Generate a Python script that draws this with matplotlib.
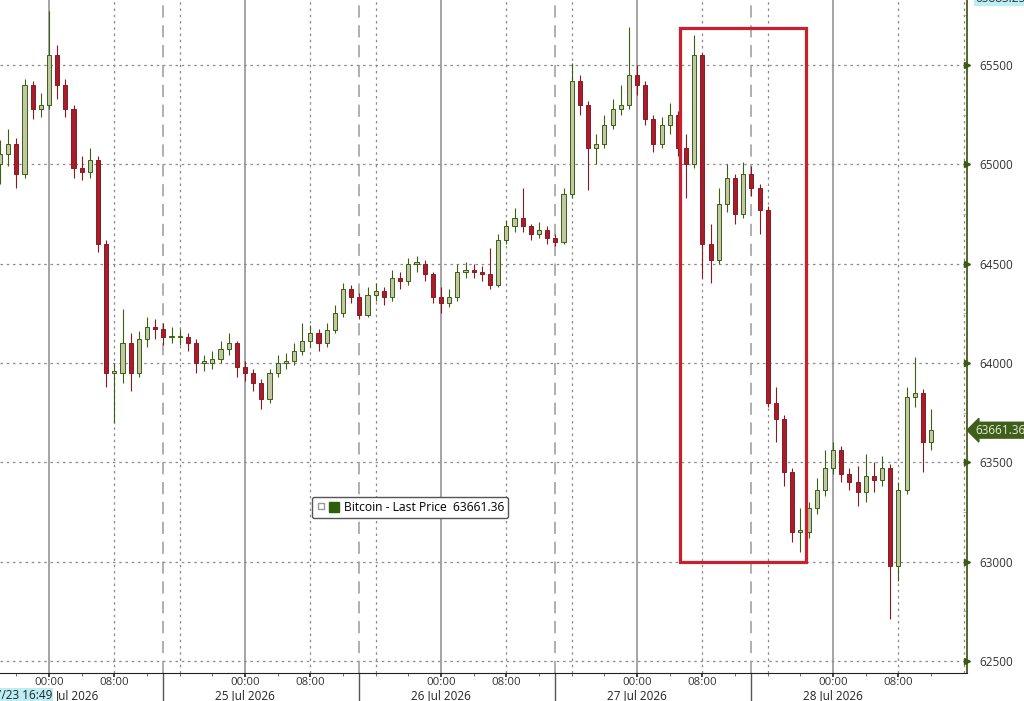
import numpy as np
import matplotlib.pyplot as plt
from matplotlib import patches, transforms
from matplotlib.lines import Line2D
from matplotlib.legend_handler import HandlerTuple

plt.rcParams['font.family'] = ['Open Sans', 'DejaVu Sans']

# hours from 24 Jul 2026 00:00, hourly candles
hours = np.arange(-6, 109)

close = [65050, 65100, 64950, 65400, 65280, 65300,
         65550, 65400, 65280, 64980, 64960, 65020, 64600, 63950, 63950, 64100,
         63950, 64120, 64180, 64170, 64130, 64130, 64130, 64100, 64000, 64000,
         64020, 64070, 64100, 63980,
         63950, 63900, 63820, 63950, 64000, 64010, 64060, 64110, 64150, 64100,
         64165, 64250, 64370, 64330, 64240, 64340, 64360, 64330, 64430, 64410,
         64500, 64500, 64450, 64330,
         64300, 64330, 64460, 64470, 64460, 64450, 64390, 64620, 64690, 64730,
         64690, 64650, 64670, 64630, 64610, 64850, 65420, 65300, 65080, 65100,
         65200, 65280, 65300, 65450,
         65400, 65230, 65100, 65200, 65250, 65080, 65000, 65550, 64600, 64520,
         64800, 64930, 64750, 64950, 64880, 64770, 63800, 63720, 63450, 63150,
         63150, 63270, 63360, 63470,
         63560, 63440, 63400, 63350, 63430, 63410, 63470, 62980, 63360, 63830,
         63850, 63600, 63661.36]

high = [65120, 65180, 65130, 65430, 65420, 65360,
        65770, 65600, 65430, 65300, 65040, 65080, 65040, 64620, 64000, 64270,
        64150, 64160, 64230, 64220, 64200, 64180, 64170, 64150, 64120, 64040,
        64060, 64110, 64150, 64110,
        64010, 63970, 63920, 63970, 64040, 64050, 64100, 64200, 64190, 64170,
        64200, 64290, 64400, 64390, 64350, 64380, 64400, 64380, 64470, 64460,
        64530, 64540, 64520, 64460,
        64380, 64370, 64500, 64510, 64500, 64490, 64580, 64650, 64720, 64780,
        64880, 64700, 64710, 64690, 64650, 64880, 65510, 65450, 65320, 65150,
        65250, 65330, 65400, 65690,
        65500, 65420, 65250, 65240, 65310, 65270, 65150, 65650, 65560, 64700,
        64880, 65000, 64950, 65010, 64990, 64900, 64790, 63880, 63740, 63470,
        63270, 63300, 63420, 63560,
        63600, 63580, 63470, 63480, 63540, 63500, 63530, 63490, 63400, 63880,
        64030, 63870, 63770]

low = [64900, 64990, 64880, 64930, 65230, 65240,
       65280, 65330, 65240, 64930, 64920, 64930, 64560, 63880, 63700, 63900,
       63860, 63930, 64080, 64120, 64090, 64100, 64090, 64060, 63950, 63960,
       63970, 64000, 64040, 63930,
       63910, 63860, 63770, 63800, 63930, 63970, 63990, 64040, 64080, 64060,
       64080, 64150, 64230, 64300, 64220, 64230, 64310, 64290, 64310, 64370,
       64390, 64460, 64410, 64300,
       64250, 64280, 64310, 64430, 64430, 64410, 64370, 64380, 64600, 64660,
       64660, 64620, 64630, 64600, 64590, 64600, 64830, 65250, 64870, 65000,
       65080, 65180, 65250, 65280,
       65350, 65200, 65060, 65080, 65150, 65040, 64830, 64980, 64430, 64400,
       64500, 64760, 64700, 64730, 64840, 64650, 63780, 63600, 63380, 63100,
       63050, 63120, 63240, 63330,
       63440, 63400, 63360, 63280, 63300, 63350, 63380, 62710, 62900, 63340,
       63780, 63450, 63560]

first_open = 65000
last_price = 63661.36
top_label = "65883.25"

price_ticks = [62500, 63000, 63500, 64000, 64500, 65000, 65500]
day_ticks = [0, 24, 48, 72, 96]
day_names = ["24 Jul 2026", "25 Jul 2026", "26 Jul 2026", "27 Jul 2026", "28 Jul 2026"]
eight_ticks = [8, 32, 56, 80, 104]
session_breaks = [14, 38, 62, 86]

close = np.array(close)
opn = np.concatenate([[first_open], close[:-1]])
high = np.array(high)
low = np.array(low)
up = close >= opn

up_face, up_edge = '#c0c6a6', '#3c5f10'
dn_face, dn_edge = '#a61e2c', '#8a1a22'

fig = plt.figure(figsize=(10.24, 7.01), dpi=100)
ax = fig.add_axes([0, 28 / 701, 967 / 1024, 673 / 701])
ax.set_xlim(-6.0, 112.4)
ax.set_ylim(62439, 65827)

# grid
for p in price_ticks:
    ax.axhline(p, color='#8a8a8a', lw=0.9, ls=(0, (2, 3)), zorder=1)
for d in day_ticks:
    ax.axvline(d, color='#8c8c8c', lw=1.1, zorder=1)
for d in day_ticks:
    for h in (8, 16):
        ax.axvline(d + h, color='#8a8a8a', lw=0.9, ls=(0, (2, 3)), zorder=1)
for s in session_breaks:
    ax.axvline(s, color='#9a9a9a', lw=1.1, ls=(0, (8, 5)), zorder=1)
    ax.plot([s, s], [-0.045, 0], transform=ax.get_xaxis_transform(),
            color='#555555', lw=1, clip_on=False)

# candles
ax.vlines(hours[up], low[up], high[up], color=up_edge, lw=0.8, zorder=3)
ax.vlines(hours[~up], low[~up], high[~up], color=dn_edge, lw=0.8, zorder=3)
body = np.maximum(np.abs(close - opn), 8)
bottom = np.minimum(opn, close)
ax.bar(hours[up], body[up], bottom=bottom[up], width=0.5,
       color=up_face, edgecolor=up_edge, lw=0.7, zorder=4)
ax.bar(hours[~up], body[~up], bottom=bottom[~up], width=0.5,
       color=dn_face, edgecolor=dn_edge, lw=0.7, zorder=4)

# highlight box
ax.add_patch(patches.Rectangle((77.25, 63000), 15.45, 2686, fill=False,
                               ec='#c8202c', lw=2.3, zorder=6))

# axes styling
ax.spines['left'].set_visible(False)
ax.spines['top'].set_visible(False)
ax.spines['right'].set_color('#4a5a1c')
ax.spines['right'].set_linewidth(1.3)
ax.spines['bottom'].set_color('#222222')
ax.yaxis.tick_right()
ax.set_yticks(price_ticks)
ax.set_yticklabels([str(p) for p in price_ticks])
ax.set_yticks(np.arange(62750, 65800, 500), minor=True)
ax.tick_params(axis='y', which='major', length=0, pad=9, labelsize=8.5,
               labelcolor='#333333')
ax.tick_params(axis='y', which='minor', length=3, color='#aaaaaa', direction='in')
ax.plot([1] * len(price_ticks), price_ticks, marker='>', ls='none', ms=5,
        color='#3c5a12', transform=transforms.blended_transform_factory(
            ax.transAxes, ax.transData), clip_on=False, zorder=7)

xt = sorted(day_ticks + eight_ticks)
ax.set_xticks(xt)
ax.set_xticklabels(['00:00' if t % 24 == 0 else '08:00' for t in xt])
ax.set_xticks(np.arange(-4, 112, 4), minor=True)
ax.tick_params(axis='x', which='major', length=3, width=1.2, color='#222222',
               pad=0, labelsize=8.2, labelcolor='#333333')
ax.tick_params(axis='x', which='minor', length=2.5, color='#555555')

date_y = -0.0335
for d, name in zip(day_ticks[1:], day_names[1:]):
    ax.text(d, date_y, name, transform=ax.get_xaxis_transform(), ha='center',
            va='center', fontsize=8.5, color='#222222')
# first day label is partly hidden behind the start-time tag
ax.text(56 / 967, date_y, day_names[0].split(' ', 1)[1], transform=ax.transAxes,
        ha='left', va='center', fontsize=8.5, color='#222222')
ax.text(52 / 967, date_y, "07/23 16:49", transform=ax.transAxes, ha='right',
        va='center', fontsize=8.5, color='#222222', zorder=8,
        bbox=dict(boxstyle='square,pad=0.1', fc='#bdeef5', ec='none'))

# last price tag and top label
ax.annotate(f"{last_price:.2f}", xy=(1, last_price),
            xycoords=('axes fraction', 'data'), xytext=(6, 0),
            textcoords='offset points', va='center', ha='left', fontsize=8.5,
            color='#e6eed8',
            bbox=dict(boxstyle='larrow,pad=0.12', fc='#3e5e1a', ec='#3e5e1a'))
ax.annotate(top_label, xy=(1, 65836), xycoords=('axes fraction', 'data'),
            xytext=(6, 0), textcoords='offset points', va='center', ha='left',
            fontsize=8.5, color='#333333', annotation_clip=False,
            bbox=dict(boxstyle='square,pad=0.12', fc='#bdeef5', ec='none'))

# legend
icon = Line2D([], [], marker='s', ls='none', ms=5, mfc='white', mec='#999999')
h = patches.Patch(facecolor='#2f5e0c', edgecolor='#2f5e0c')
leg = ax.legend([(icon, h)], [f"Bitcoin - Last Price  {last_price:.2f}"],
                handler_map={tuple: HandlerTuple(ndivide=None, pad=0.2)},
                loc='center', bbox_to_anchor=(410 / 967, 1 - 507.5 / 673),
                fontsize=8.7, frameon=True, fancybox=True, handlelength=1.9,
                handleheight=0.9, handletextpad=0.4, borderpad=0.35)
leg.get_frame().set_edgecolor('#555555')
leg.get_frame().set_linewidth(1.0)
leg.get_frame().set_alpha(1)

fig.savefig('out.png', dpi=100)
